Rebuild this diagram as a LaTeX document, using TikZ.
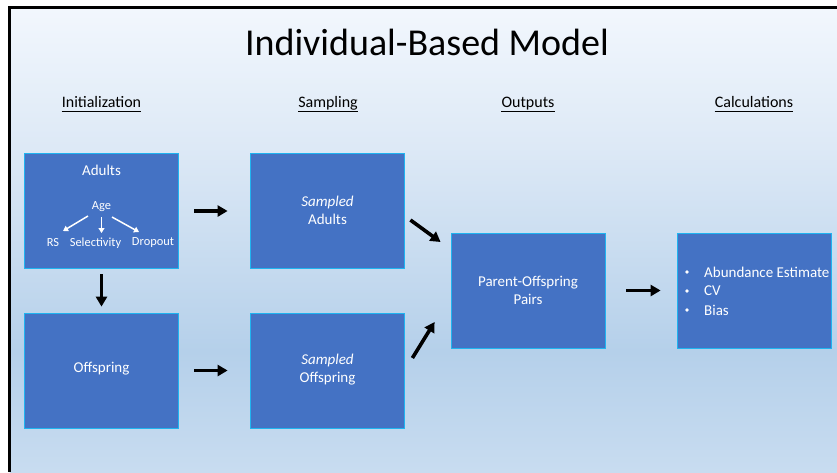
\documentclass[tikz,border=0pt]{standalone}
\usepackage{fontspec}
\setmainfont{Carlito}
\usetikzlibrary{arrows.meta}
\definecolor{boxfill}{HTML}{4472C4}
\definecolor{boxline}{HTML}{1FB4F0}
\definecolor{bgtop}{HTML}{F2F7FD}
\definecolor{bgup}{HTML}{DDE9F6}
\definecolor{bgmid}{HTML}{B5D0EA}
\definecolor{bgbot}{HTML}{C8DCF0}
\pgfdeclareverticalshading{bgshade}{100bp}{color(0bp)=(bgbot); color(25bp)=(bgbot); color(38bp)=(bgmid); color(60bp)=(bgup); color(75bp)=(bgtop); color(100bp)=(bgtop)}
\tikzset{
  blk/.style={draw=boxline, line width=0.8pt, fill=boxfill, minimum width=154pt, minimum height=115pt, inner sep=0pt},
  wtxt/.style={text=white, font=\fontsize{15}{17}\selectfont, inner sep=0pt},
  stxt/.style={text=white, font=\fontsize{12.4}{14}\selectfont, inner sep=0pt},
  hdr/.style={font=\fontsize{16}{18}\selectfont, inner sep=0pt, anchor=base},
  uline/.style={line width=1.3pt},
  bigarrow/.style={line width=3.6pt, -{Triangle[length=10pt,width=11pt]}},
  smallarrow/.style={draw=white, line width=1.5pt, -{Triangle[length=5pt,width=6pt]}},
}
\begin{document}
\begin{tikzpicture}[x=1pt,y=-1pt]
\useasboundingbox (0,0) rectangle (837,472);
\fill[white] (0,0) rectangle (837,472);
\shade[shading=bgshade] (9.5,7.5) rectangle (837,472);
\draw[line width=3pt] (9.5,472) -- (9.5,7.5) -- (837,7.5);

\node[font=\fontsize{38}{44}\selectfont, inner sep=0pt] (title) at (427,42) {Individual-Based Model};

\node[hdr] (h1) at (101.5,107) {Initialization};
\node[hdr] (h2) at (328,107) {Sampling};
\node[hdr] (h3) at (528,107) {Outputs};
\node[hdr] (h4) at (754,107) {Calculations};
\foreach \h in {h1,h2,h3,h4} {
  \draw[uline] ([shift={(0,4.5)}]\h.base west) -- ([shift={(0,4.5)}]\h.base east);
}

\node[blk] (adults) at (101.5,211) {};
\node[blk] (off) at (101.5,370.5) {};
\node[blk] (sadults) at (327.5,211) {};
\node[blk] (soff) at (327.5,370.5) {};
\node[blk] (pop) at (528,290.5) {};
\node[blk] (calc) at (754,290.5) {};

\node[wtxt] (tadults) at (101.5,170) {Adults};
\node[stxt] (age) at (101.5,207) {Age};
\node[stxt] (rs) at (53,243) {RS};
\node[stxt] (sel) at (95.5,243) {Selectivity};
\node[stxt] (drop) at (153,243) {Dropout};
\coordinate (a1) at (88,216);
\coordinate (a1e) at (63,231);
\coordinate (a2) at (101.5,217);
\coordinate (a2e) at (101.5,233);
\coordinate (a3) at (112,217);
\coordinate (a3e) at (139,232);
\draw[smallarrow] (a1) -- (a1e);
\draw[smallarrow] (a2) -- (a2e);
\draw[smallarrow] (a3) -- (a3e);

\node[wtxt] (toff) at (101.5,369) {Offspring};
\node[wtxt, align=center] (tsadults) at (327.5,210.5) {\textit{Sampled}\\[0.5pt]Adults};
\node[wtxt, align=center] (tsoff) at (327.5,369.5) {\textit{Sampled}\\[0.5pt]Offspring};
\node[wtxt, align=center] (tpop) at (528,290.5) {Parent-Offspring\\[0.5pt]Pairs};

\node[wtxt, anchor=west] (l1) at (704,272) {Abundance Estimate};
\node[wtxt, anchor=west] (l2) at (704,291) {CV};
\node[wtxt, anchor=west] (l3) at (704,310) {Bias};
\foreach \yy in {272,291,310} {
  \fill[white] (687,\yy) circle (1.8pt);
}

\draw[bigarrow] ([shift={(15.5,0)}]adults.east) -- ([shift={(-22.5,0)}]sadults.west);
\draw[bigarrow] ([shift={(15.5,0)}]off.east) -- ([shift={(-22.5,0)}]soff.west);
\draw[bigarrow] ([shift={(0,5.5)}]adults.south) -- ([shift={(0,-6)}]off.north);
\draw[bigarrow] ([shift={(5.5,9)}]sadults.east) -- ([shift={(-10,-48.5)}]pop.west);
\draw[bigarrow] ([shift={(7.5,-12.5)}]soff.east) -- ([shift={(-16,31.5)}]pop.west);
\draw[bigarrow] ([shift={(21,0)}]pop.east) -- ([shift={(-16,0)}]calc.west);
\end{tikzpicture}
\end{document}
